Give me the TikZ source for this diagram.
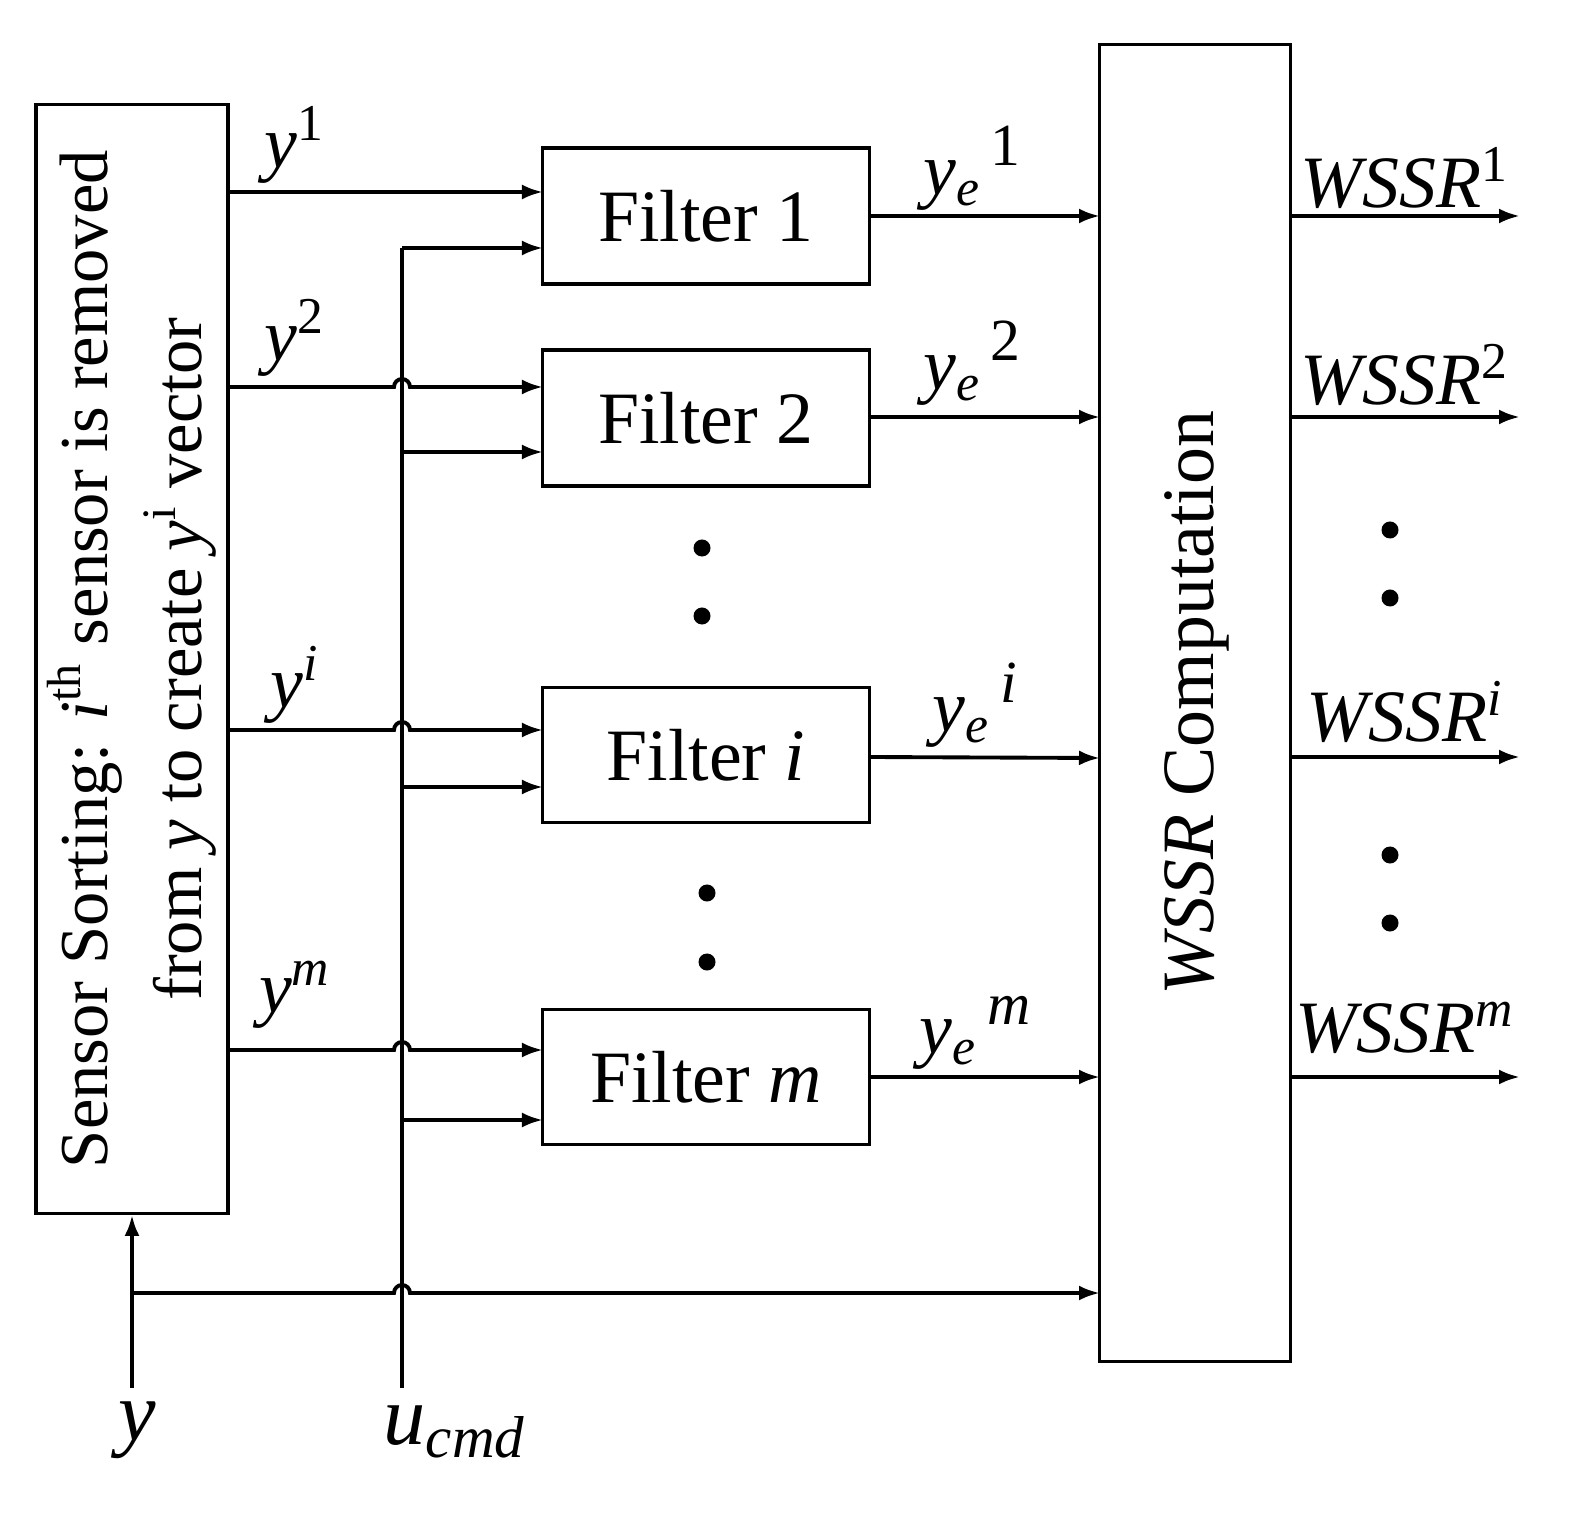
\documentclass[tikz,border=0pt]{standalone}
\usepackage{fontspec}
\setmainfont{Liberation Serif}
\usetikzlibrary{arrows.meta}
\begin{document}
\begin{tikzpicture}[x=0.01cm,y=-0.01cm,
  box/.style={draw,line width=0.9pt,inner sep=0pt},
  sig/.style={line width=1.1pt,-{Latex[length=0.21cm,width=0.15cm]}},
  ln/.style={line width=1.1pt},
  lab/.style={font=\fontsize{21}{24}\selectfont},
  dot/.style={circle,fill,inner sep=0pt,minimum size=0.17cm}]
\useasboundingbox (0,0) rectangle (1594,1522);
\newcommand{\hop}{arc[start angle=180,end angle=0,radius=0.08cm]}
\newcommand{\ye}[1]{\textit{y}\textsubscript{\textit{e}}\raisebox{0.85ex}{\fontsize{17}{20}\selectfont\,#1}}
% boxes
\node[box,minimum width=1.92cm,minimum height=11.08cm] (S) at (132,659) {};
\node[rotate=90,align=center,font=\fontsize{19.5}{27}\selectfont] at (132,659)
  {Sensor Sorting: \textit{i}\textsuperscript{th} sensor is removed\\ from \textit{y} to create \textit{y}\textsuperscript{i} vector};
\node[box,minimum width=3.27cm,minimum height=1.36cm,font=\fontsize{21}{24}\selectfont] (F1) at (706,216) {Filter 1};
\node[box,minimum width=3.27cm,minimum height=1.36cm,font=\fontsize{21}{24}\selectfont] (F2) at (706,418) {Filter 2};
\node[box,minimum width=3.27cm,minimum height=1.35cm,font=\fontsize{21}{24}\selectfont] (Fi) at (706,755) {Filter \textit{i}};
\node[box,minimum width=3.27cm,minimum height=1.35cm,font=\fontsize{21}{24}\selectfont] (Fm) at (706,1077) {Filter \textit{m}};
\node[box,minimum width=1.91cm,minimum height=13.16cm] (W) at (1195,703) {};
\node[rotate=90,font=\fontsize{21}{24}\selectfont] at (1197,703) {\textit{WSSR} Computation};
% y lines to filters
\coordinate (a1) at (228,192);
\draw[sig] (a1) -- (543,192);
\foreach \yy in {387,730,1050}{
  \draw[sig] (228,\yy) -- (394,\yy) \hop -- (543,\yy);
}
% ucmd
\coordinate (u0) at (402,1388);
\draw[ln] (u0) -- (402,248);
\foreach \yy in {248,452,787,1120}{
  \draw[sig] (402,\yy) -- (543,\yy);
}
% y input
\coordinate (y0) at (132,1388);
\draw[sig] (y0) -- (S.south);
\draw[sig] (132,1293) -- (394,1293) \hop -- (1100,1293);
% filter outputs
\draw[sig] (870,216) -- (1100,216);
\draw[sig] (870,417) -- (1100,417);
\draw[sig] (870,757) -- (1100,758);
\draw[sig] (870,1077) -- (1100,1077);
% WSSR outputs
\foreach \yy in {216,417,757,1077}{\draw[sig] (1291,\yy) -- (1520,\yy);}
% labels
\node[lab] at (295,145) {\textit{y}\textsuperscript{1}};
\node[lab] at (295,338) {\textit{y}\textsuperscript{2}};
\node[lab] at (295,685) {\textit{y}\textsuperscript{\textit{i}}};
\node[lab] at (295,995) {\textit{y}\textsuperscript{\textit{m}}};
\node[lab] at (972,168) {\ye{1}};
\node[lab] at (972,363) {\ye{2}};
\node[lab] at (975,705) {\ye{\textit{i}}};
\node[lab] at (975,1033) {\ye{\textit{m}}};
\node[lab] at (1405,178) {\textit{WSSR}\textsuperscript{1}};
\node[lab] at (1405,375) {\textit{WSSR}\textsuperscript{2}};
\node[lab] at (1405,712) {\textit{WSSR}\textsuperscript{\textit{i}}};
\node[lab] at (1405,1028) {\textit{WSSR}\textsuperscript{\textit{m}}};
\node[font=\fontsize{24}{28}\selectfont] at (137,1430) {\textit{y}};
\node[font=\fontsize{24}{28}\selectfont] at (455,1432) {\textit{u}\textsubscript{\textit{cmd}}};
% dots
\foreach \p in {(702,548),(702,616),(707,893),(707,962),(1390,530),(1390,598),(1390,855),(1390,923)}
  \node[dot] at \p {};
\end{tikzpicture}
\end{document}
